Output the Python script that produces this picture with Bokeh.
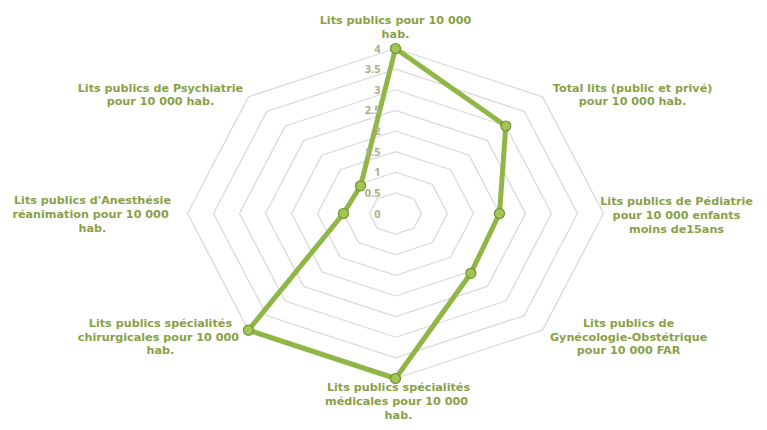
import numpy as np
from bokeh.plotting import figure
from bokeh.models import ColumnDataSource, Range1d
from bokeh.core.properties import value
from bokeh.embed import file_html
from bokeh.resources import INLINE

# ---- data ----
categories = [
    "Lits publics pour 10 000\nhab.",
    "Total lits (public et privé)\npour 10 000 hab.",
    "Lits publics de Pédiatrie\npour 10 000 enfants\nmoins de15ans",
    "Lits publics de\nGynécologie-Obstétrique\npour 10 000 FAR",
    "Lits publics spécialités\nmédicales  pour 10 000\nhab.",
    "Lits publics spécialités\nchirurgicales  pour 10 000\nhab.",
    "Lits publics d'Anesthésie\nréanimation  pour 10 000\nhab.",
    "Lits publics de Psychiatrie\npour 10 000 hab.",
]
values = [4.0, 3.0, 2.0, 2.05, 4.0, 4.0, 1.0, 0.95]
tick_values = [0, 0.5, 1, 1.5, 2, 2.5, 3, 3.5, 4]
tick_labels = ["0", "0.5", "1", "1.5", "2", "2.5", "3", "3.5", "4"]
r_max = 4.0

# ---- layout / styling ----
W, H = 759, 422
cx_px, cy_px = 395, 213          # centre in figure pixels
sx, sy = 52.0, 41.25             # pixels per unit
# label block centre offsets (pixels) from the outer vertex
label_dx = [0, 90, 73, 86, 3, -88, -95, -88]
label_dy = [-21, -2, 2, 7, 23, 7, 1, -2]

n = len(categories)
theta = np.arange(n) * 2 * np.pi / n
ux, uy = np.sin(theta), np.cos(theta)

p = figure(width=W, height=H, output_backend="svg", toolbar_location=None,
           x_range=Range1d(-cx_px / sx, (W - cx_px) / sx),
           y_range=Range1d(-(H - cy_px) / sy, cy_px / sy),
           min_border=0)
p.axis.visible = False
p.grid.visible = False
p.outline_line_color = None
p.background_fill_color = "white"
p.border_fill_color = "white"

# grid octagons
gx, gy = [], []
for t in tick_values[1:]:
    gx.append(list(np.append(t * ux, t * ux[0])))
    gy.append(list(np.append(t * uy, t * uy[0])))
p.multi_line(gx, gy, line_color="#dadada", line_width=1.3)

# data series
vals = np.array(values)
lx = np.append(vals * ux, vals[0] * ux[0])
ly = np.append(vals * uy, vals[0] * uy[0])
p.line(lx, ly, line_color="#8fb646", line_width=5, line_join="round")
p.scatter(vals * ux, vals * uy, size=10, marker="circle",
          fill_color="#a2c656", line_color="#6f9232", line_width=1.2)

# tick labels along the first axis
p.text(x=[0] * len(tick_values), y=tick_values, text=tick_labels,
       x_offset=-15, text_align="right", text_baseline="middle",
       text_font=value("Open Sans"), text_font_style="bold",
       text_font_size="11px", text_color="#abb088")

# category labels
lab = ColumnDataSource(dict(
    x=r_max * ux + np.array(label_dx) / sx,
    y=r_max * uy - np.array(label_dy) / sy,
    text=categories,
))
p.text(x="x", y="y", text="text", source=lab,
       text_align="center", text_baseline="middle",
       text_font=value("DejaVu Sans"), text_font_style="bold",
       text_font_size="11.2px", text_line_height=1.05,
       text_color="#88a147")

open("out.html", "w").write(file_html(p, INLINE))
